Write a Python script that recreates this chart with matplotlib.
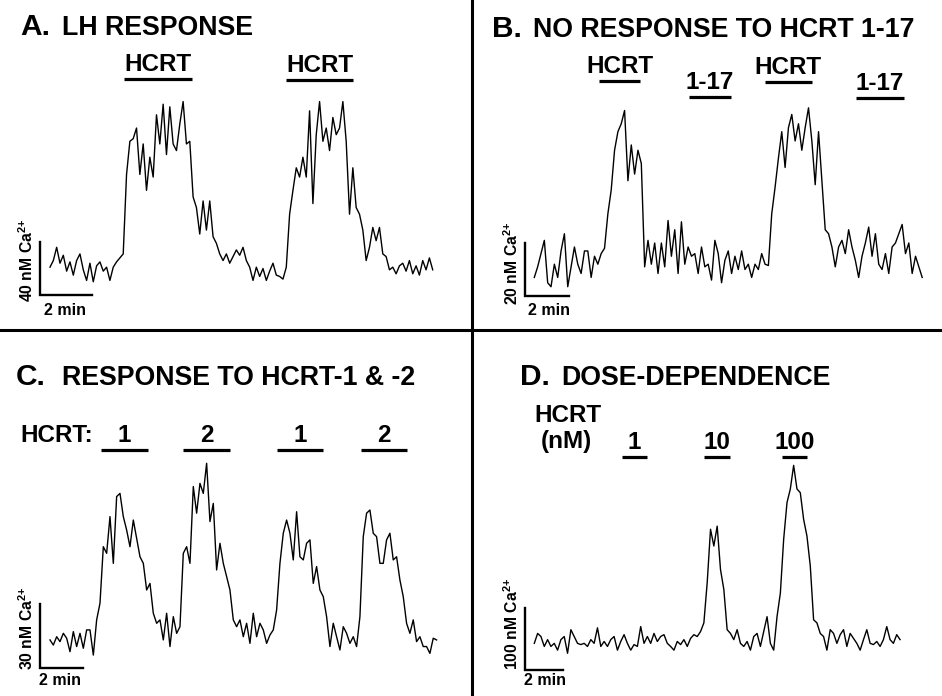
import matplotlib.pyplot as plt
import matplotlib.transforms as mtransforms
from matplotlib.lines import Line2D
import numpy as np

plt.rcParams['font.family'] = ['Liberation Sans', 'DejaVu Sans']
plt.rcParams['font.weight'] = 'bold'
plt.rcParams['mathtext.fontset'] = 'custom'
plt.rcParams['mathtext.rm'] = 'Liberation Sans:bold'
plt.rcParams['mathtext.bf'] = 'Liberation Sans:bold'
plt.rcParams['mathtext.it'] = 'Liberation Sans:bold'

# ---- data: Ca2+ traces in nM (above scale-bar baseline), sampled every dt min
dt_a = 0.128
ca_a = [21, 26, 36, 24, 30, 18, 25, 15, 26, 31,
        19, 11, 24, 10, 22, 25, 18, 21, 11, 21,
        25, 28, 31, 91, 116, 118, 126, 91, 114, 79,
        104, 89, 136, 114, 144, 106, 142, 114, 109, 129,
        146, 114, 116, 74, 66, 46, 71, 49, 71, 44,
        39, 31, 26, 31, 24, 29, 34, 30, 36, 26,
        21, 11, 21, 14, 20, 11, 18, 24, 15, 14,
        12, 21, 61, 79, 96, 89, 104, 89, 139, 69,
        121, 146, 116, 126, 109, 134, 121, 126, 146, 116,
        61, 96, 66, 61, 49, 26, 36, 51, 41, 51,
        31, 29, 19, 21, 16, 22, 24, 18, 26, 16,
        22, 15, 26, 19, 28, 19]
stim_a = [(2.85, 5.46), (9.08, 11.65)]
labels_a = ['HCRT', 'HCRT']

dt_b = 0.152
ca_b = [7, 11, 16, 21, 5, 3.5, 12, 7, 17, 23.5,
        3.5, 11, 18.5, 12, 8.5, 17, 17, 7, 15, 12,
        16, 18, 31, 40, 55, 62, 65, 70, 43.5, 57,
        46, 55, 50, 11, 21, 12, 20, 8.5, 20, 11,
        28.5, 15, 25, 8.5, 28, 12, 18.5, 15, 16, 8.5,
        18.5, 11, 12, 6, 21, 16, 5, 13.5, 17, 8.5,
        15, 10, 17, 10, 12, 7, 12, 10, 16, 12,
        11.5, 31, 41, 52, 62, 48.5, 63.5, 68.5, 58.5, 65,
        55, 63.5, 71, 58.5, 42, 62, 43.5, 25, 23.5, 18.5,
        11, 18.5, 21, 16, 25, 18.5, 13.5, 7, 15, 20,
        26, 15, 23.5, 12, 10, 16, 8.5, 18.5, 20, 23.5,
        27, 16, 20, 8.5, 15, 11, 7]
stim_b = [(2.94, 4.80), (7.03, 8.94), (10.48, 12.61), (14.62, 16.80)]
labels_b = ['HCRT', '1-17', 'HCRT', '1-17']

dt_c = 0.155
ca_c = [13.3, 10.9, 14.8, 12.5, 16.4, 14.1, 7.8, 17.2, 10.2, 16.4,
        9.4, 18.0, 18.0, 6.2, 22.7, 30.5, 57.0, 53.9, 71.1, 49.2,
        80.5, 82.0, 71.1, 64.8, 57.0, 69.5, 60.9, 52.3, 49.2, 36.7,
        39.8, 25.8, 21.1, 22.7, 13.3, 25.8, 10.2, 24.2, 16.4, 19.5,
        53.9, 57.0, 49.2, 85.2, 72.7, 86.7, 82.0, 96.1, 68.8, 77.3,
        46.1, 58.6, 49.2, 43.0, 36.7, 22.7, 19.5, 22.7, 14.8, 21.1,
        11.7, 25.8, 14.8, 21.1, 18.0, 11.7, 15.6, 18.0, 27.3, 49.2,
        63.3, 69.5, 63.3, 50.8, 73.4, 52.3, 50.8, 58.6, 60.2, 39.8,
        47.7, 36.7, 33.6, 24.2, 10.2, 21.1, 14.8, 8.6, 19.5, 16.4,
        11.7, 14.8, 10.2, 24.2, 61.7, 72.7, 74.2, 63.3, 61.7, 49.2,
        49.2, 60.2, 63.3, 50.8, 52.3, 41.4, 33.6, 21.1, 16.4, 22.7,
        12.5, 14.8, 10.2, 10.2, 7.0, 14.1, 13.3]
stim_c = [(2.37, 4.56), (6.19, 8.37), (10.56, 12.70), (14.47, 16.60)]
labels_c = ['1', '2', '1', '2']

dt_d = 0.175
ca_d = [43, 59, 54, 38, 49, 38, 43, 32, 49, 54,
        27, 65, 54, 43, 41, 43, 38, 49, 43, 68,
        38, 46, 38, 49, 54, 32, 46, 57, 43, 32,
        41, 38, 70, 43, 54, 43, 59, 46, 54, 57,
        43, 38, 32, 46, 41, 49, 38, 51, 57, 54,
        62, 76, 141, 227, 200, 232, 162, 130, 65, 59,
        49, 65, 43, 38, 46, 32, 54, 59, 38, 62,
        86, 43, 32, 86, 124, 211, 270, 292, 330, 292,
        286, 243, 216, 168, 81, 76, 59, 54, 32, 65,
        59, 43, 57, 65, 38, 59, 51, 43, 32, 49,
        65, 43, 41, 46, 38, 49, 70, 49, 43, 57,
        49]
stim_d = [(4.61, 5.93), (8.93, 10.30), (13.03, 14.35)]
labels_d = ['1', '10', '100']

W, H = 942, 696
fig = plt.figure(figsize=(W / 100, H / 100), dpi=100)
# pixel transform, origin at top-left of the figure
px = mtransforms.Affine2D().scale(1 / W, -1 / H).translate(0, 1) + fig.transFigure


def panel(box, x0, ppm, yb, ppn):
    # box in pixels; x0 = pixel of t=0, ppm = px per min, yb = pixel of 0 nM, ppn = px per nM
    l, t, r, b = box
    ax = fig.add_axes([l / W, 1 - b / H, (r - l) / W, (b - t) / H])
    ax.set_xlim((l - x0) / ppm, (r - x0) / ppm)
    ax.set_ylim((yb - b) / ppn, (yb - t) / ppn)
    ax.axis('off')
    return ax


def draw(ax, ca, dt, stims, labels, bar_y, sb_x, sb_nm, x0, ppm, sb_lab_xy, v_lab_xy):
    ca = np.asarray(ca, dtype=float)
    t = np.arange(len(ca)) * dt
    ax.plot(t, ca, color='black', lw=1.0)
    bl = mtransforms.blended_transform_factory(ax.transData, px)
    for (t0, t1), lab, by in zip(stims, labels, bar_y):
        ax.plot([t0, t1], [by, by], transform=bl, color='black', lw=2.3,
                solid_capstyle='butt', clip_on=False)
        ax.text((t0 + t1) / 2, by - 8, lab, transform=bl, ha='center',
                va='baseline', fontsize=17.5, fontweight='bold')
    ts = (sb_x - x0) / ppm
    ax.plot([ts, ts, ts + 2], [sb_nm, 0, 0], color='black', lw=1.7,
            solid_joinstyle='miter', clip_on=False)
    fig.text(sb_lab_xy[0], sb_lab_xy[1], '2 min', transform=px, ha='left',
             va='baseline', fontsize=11.5, fontweight='bold')
    fig.text(v_lab_xy[0], v_lab_xy[1], '%d nM Ca$^{2{+}}$' % sb_nm,
             transform=px, rotation=90, rotation_mode='anchor', ha='left',
             va='baseline', fontsize=11.3, fontweight='bold')


# A
ax = panel((0, 0, 471, 330), 50.0, 26.0, 295.0, 53 / 40)
draw(ax, ca_a, dt_a, stim_a, labels_a, [79, 80], 40, 40, 50.0, 26.0, (44, 315), (33, 302))
# B
ax = panel((471, 0, 942, 330), 534.3, 22.0, 296.0, 53 / 20)
draw(ax, ca_b, dt_b, stim_b, labels_b, [81, 97, 82, 98], 525, 20, 534.3, 22.0, (528, 315), (518, 305))
# C
ax = panel((0, 330, 471, 696), 50.0, 21.5, 668.3, 64 / 30)
draw(ax, ca_c, dt_c, stim_c, labels_c, [450] * 4, 40, 30, 50.0, 21.5, (39, 685), (33, 670))
# D
ax = panel((471, 330, 942, 696), 534.3, 19.0, 670.0, 62 / 100)
draw(ax, ca_d, dt_d, stim_d, labels_d, [457] * 3, 525, 100, 534.3, 19.0, (524, 685), (518, 670))

# titles
titles = [(20, 35, 'A.', 62, 'LH RESPONSE'),
          (492, 37, 'B.', 533, 'NO RESPONSE TO HCRT 1-17'),
          (16, 385, 'C.', 62, 'RESPONSE TO HCRT-1 & -2'),
          (520, 385, 'D.', 561, 'DOSE-DEPENDENCE')]
for xl, yl, letter, xt, text in titles:
    fig.text(xl, yl, letter, transform=px, ha='left', va='baseline', fontsize=21.5, fontweight='bold')
    fig.text(xt, yl, text, transform=px, ha='left', va='baseline', fontsize=19.3, fontweight='bold')

fig.text(20, 442, 'HCRT:', transform=px, ha='left', va='baseline', fontsize=17.5, fontweight='bold')
fig.text(534, 422, 'HCRT', transform=px, ha='left', va='baseline', fontsize=17.5, fontweight='bold')
fig.text(541, 448, '(nM)', transform=px, ha='left', va='baseline', fontsize=17.5, fontweight='bold')

# panel dividers
fig.add_artist(Line2D([471.5, 471.5], [0, H], transform=px, color='black', lw=2.2))
fig.add_artist(Line2D([0, W], [330, 330], transform=px, color='black', lw=2.2))

fig.savefig('out.png', dpi=100)
